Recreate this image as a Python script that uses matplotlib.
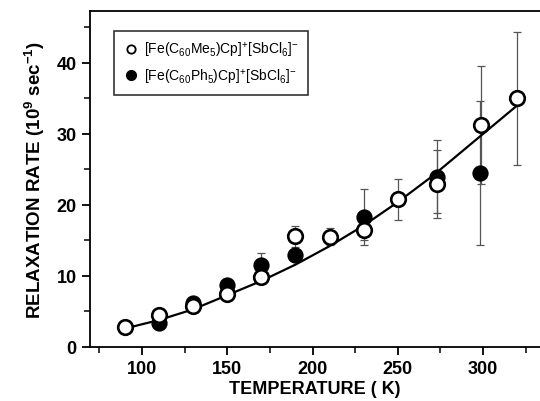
import matplotlib.pyplot as plt
from matplotlib.lines import Line2D
from matplotlib.ticker import MultipleLocator

plt.rcParams['font.family'] = ['Liberation Sans', 'DejaVu Sans']
plt.rcParams['mathtext.fontset'] = 'custom'
plt.rcParams['mathtext.rm'] = 'Liberation Sans'
plt.rcParams['mathtext.it'] = 'Liberation Sans'
plt.rcParams['mathtext.bf'] = 'Liberation Sans:bold'

# [Fe(C60Me5)Cp]+[SbCl6]-  (open circles)
t_me = [90, 110, 130, 150, 170, 190, 210, 230, 250, 273, 299, 320]
r_me = [2.8, 4.5, 5.8, 7.4, 9.9, 15.6, 15.5, 16.5, 20.8, 23.0, 31.3, 35.0]
e_me = [0.5, 0.5, 0.4, 0.5, 0.5, 1.5, 1.2, 1.5, 2.9, 4.8, 8.3, 9.4]

# [Fe(C60Ph5)Cp]+[SbCl6]-  (filled circles)
t_ph = [110, 130, 150, 170, 190, 230, 273, 298]
r_ph = [3.4, 6.2, 8.7, 11.6, 13.0, 18.3, 24.0, 24.5]
e_ph = [0.4, 0.5, 0.9, 1.6, 0.8, 3.9, 5.2, 10.2]

# fitted curve
t_fit = [90, 110, 130, 150, 170, 190, 210, 230, 250, 270, 290, 310, 320]
r_fit = [2.6, 3.8, 5.3, 7.3, 9.3, 11.6, 14.2, 17.1, 20.4, 24.0, 28.0, 32.0, 34.0]

fig = plt.figure(figsize=(5.4, 4.02), dpi=100)
ax = fig.add_axes([90/540, 54/402, 450/540, 336/402])

ax.plot(t_fit, r_fit, color='black', lw=1.6, zorder=2)

ax.errorbar(t_ph, r_ph, yerr=e_ph, fmt='none', ecolor='#555555',
            elinewidth=0.9, capsize=3, capthick=0.9, zorder=1)
ax.errorbar(t_me, r_me, yerr=e_me, fmt='none', ecolor='#555555',
            elinewidth=0.9, capsize=3, capthick=0.9, zorder=1)

ax.plot(t_ph, r_ph, 'o', ms=10.5, mfc='black', mec='black', mew=1.2, ls='none', zorder=3)
ax.plot(t_me, r_me, 'o', ms=10.5, mfc='white', mec='black', mew=1.9, ls='none', zorder=4)

ax.set_xlim(69.5, 333.4)
ax.set_ylim(0, 47.3)
ax.xaxis.set_major_locator(MultipleLocator(50))
ax.xaxis.set_minor_locator(MultipleLocator(25))
ax.yaxis.set_major_locator(MultipleLocator(10))
ax.yaxis.set_minor_locator(MultipleLocator(5))
ax.tick_params(which='major', direction='out', length=6, width=1.3, labelsize=13)
ax.tick_params(which='minor', direction='out', length=4, width=1.1)
ax.tick_params(right=False, top=False)
for lab in ax.get_xticklabels() + ax.get_yticklabels():
    lab.set_fontweight('bold')

ax.spines['right'].set_visible(False)
for s in ['left', 'bottom', 'top']:
    ax.spines[s].set_linewidth(1.3)

ax.set_xlabel('TEMPERATURE ( K)', fontsize=13, fontweight='bold', labelpad=2)
ax.set_ylabel(r'RELAXATION RATE (10$^\mathbf{9}$ sec$^\mathbf{-1}$)',
              fontsize=13.5, fontweight='bold', labelpad=7)

handles = [
    Line2D([], [], marker='o', ls='none', ms=6, mfc='white', mec='black', mew=1.3),
    Line2D([], [], marker='o', ls='none', ms=7, mfc='black', mec='black'),
]
labels = [r'[Fe(C$_{60}$Me$_5$)Cp]$^{+}$[SbCl$_6$]$^{-}$',
          r'[Fe(C$_{60}$Ph$_5$)Cp]$^{+}$[SbCl$_6$]$^{-}$']
leg = ax.legend(handles, labels, loc='upper left', bbox_to_anchor=(24/450, 316/336),
                borderaxespad=0, fancybox=False, edgecolor='black', fontsize=10,
                handletextpad=0.3, handlelength=1.2, labelspacing=0.55,
                borderpad=0.65)
leg.get_frame().set_linewidth(1.2)

fig.savefig('out.png', dpi=100)
